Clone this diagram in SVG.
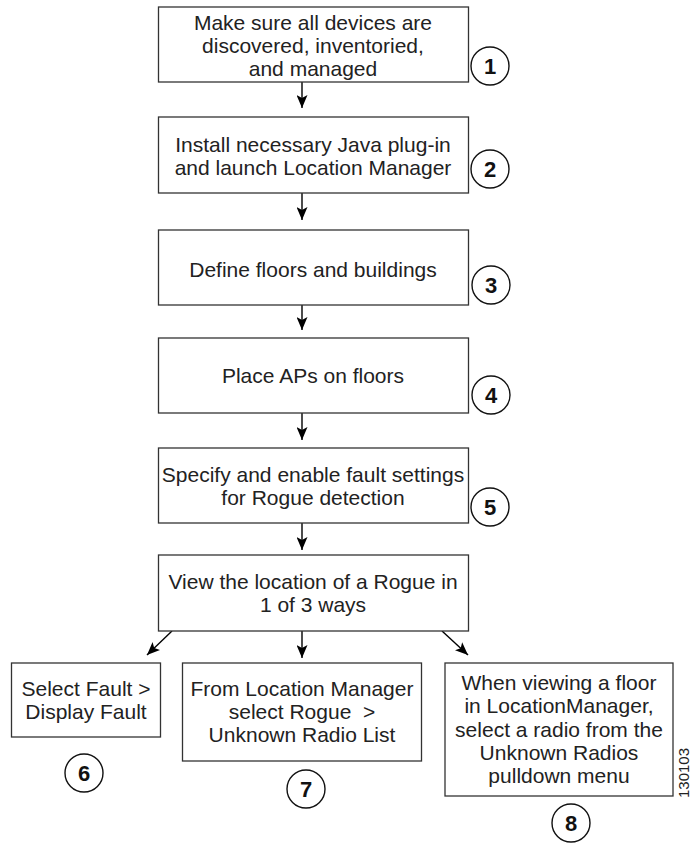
<svg xmlns="http://www.w3.org/2000/svg" width="692" height="844" viewBox="0 0 692 844">
<style>
.box{fill:#fff;stroke:#333;stroke-width:1.3}
.t{font-family:"Liberation Sans",Arial,sans-serif;font-size:21px;fill:#222;text-anchor:middle}
.num{font-family:"Liberation Sans",Arial,sans-serif;font-size:22px;font-weight:bold;fill:#111;text-anchor:middle}
.c{fill:#fff;stroke:#111;stroke-width:1.4}
.a{stroke:#000;stroke-width:1.4;fill:none;marker-end:url(#ah)}
.id{font-family:"Liberation Sans",Arial,sans-serif;font-size:15px;fill:#222;text-anchor:middle}
</style>
<defs>
<marker id="ah" viewBox="0 0 13 11" refX="13" refY="5.5" markerWidth="13" markerHeight="11" markerUnits="userSpaceOnUse" orient="auto">
<path d="M0,0 L13,5.5 L0,11 L3,5.5 z" fill="#000"/>
</marker>
</defs>
<rect width="692" height="844" fill="#fff"/>

<g id="connectors">
<line class="a" x1="302" y1="82" x2="302" y2="108"/>
<line class="a" x1="302" y1="193" x2="302" y2="220"/>
<line class="a" x1="302" y1="305" x2="302" y2="330"/>
<line class="a" x1="302" y1="413" x2="302" y2="440"/>
<line class="a" x1="302" y1="523" x2="302" y2="550"/>
<line class="a" x1="172" y1="631" x2="147" y2="655"/>
<line class="a" x1="302" y1="631" x2="302" y2="658"/>
<line class="a" x1="442" y1="631" x2="468" y2="655"/>
</g>

<g id="step1">
<rect class="box" x="158.5" y="7" width="310" height="75"/>
<text class="t" x="313" y="30">Make sure all devices are</text>
<text class="t" x="313" y="53">discovered, inventoried,</text>
<text class="t" x="313" y="76">and managed</text>
<circle class="c" cx="490" cy="66" r="19"/>
<text class="num" x="490" y="74">1</text>
</g>

<g id="step2">
<rect class="box" x="158.5" y="117" width="310" height="76"/>
<text class="t" x="313" y="152">Install necessary Java plug-in</text>
<text class="t" x="313" y="175">and launch Location Manager</text>
<circle class="c" cx="490" cy="169" r="19"/>
<text class="num" x="490" y="177">2</text>
</g>

<g id="step3">
<rect class="box" x="158.5" y="230" width="310" height="75"/>
<text class="t" x="313" y="277">Define floors and buildings</text>
<circle class="c" cx="491" cy="285" r="19"/>
<text class="num" x="491" y="293">3</text>
</g>

<g id="step4">
<rect class="box" x="158.5" y="338" width="310" height="75"/>
<text class="t" x="313" y="383">Place APs on floors</text>
<circle class="c" cx="491" cy="395" r="19"/>
<text class="num" x="491" y="403">4</text>
</g>

<g id="step5">
<rect class="box" x="158.5" y="448" width="310" height="75"/>
<text class="t" x="313" y="482">Specify and enable fault settings</text>
<text class="t" x="313" y="505">for Rogue detection</text>
<circle class="c" cx="490" cy="507" r="19"/>
<text class="num" x="490" y="515">5</text>
</g>

<g id="view">
<rect class="box" x="158.5" y="555" width="310" height="76"/>
<text class="t" x="313" y="589">View the location of a Rogue in</text>
<text class="t" x="313" y="612">1 of 3 ways</text>
</g>

<g id="step6">
<rect class="box" x="11.5" y="663" width="149" height="74"/>
<text class="t" x="86" y="696">Select Fault &gt;</text>
<text class="t" x="86" y="719">Display Fault</text>
<circle class="c" cx="84" cy="773" r="19"/>
<text class="num" x="84" y="781">6</text>
</g>

<g id="step7">
<rect class="box" x="182.5" y="663" width="239" height="98"/>
<text class="t" x="302" y="696">From Location Manager</text>
<text class="t" x="302" y="719" xml:space="preserve" style="white-space:pre">select Rogue  &gt;</text>
<text class="t" x="302" y="742">Unknown Radio List</text>
<circle class="c" cx="306" cy="789" r="19"/>
<text class="num" x="306" y="797">7</text>
</g>

<g id="step8">
<rect class="box" x="445" y="663" width="228" height="133"/>
<text class="t" x="559" y="690">When viewing a floor</text>
<text class="t" x="559" y="713">in LocationManager,</text>
<text class="t" x="559" y="737">select a radio from the</text>
<text class="t" x="559" y="760">Unknown Radios</text>
<text class="t" x="559" y="783">pulldown menu</text>
<circle class="c" cx="571" cy="823" r="19"/>
<text class="num" x="571" y="831">8</text>
</g>

<text class="id" transform="translate(689,773) rotate(-90)">130103</text>
</svg>
